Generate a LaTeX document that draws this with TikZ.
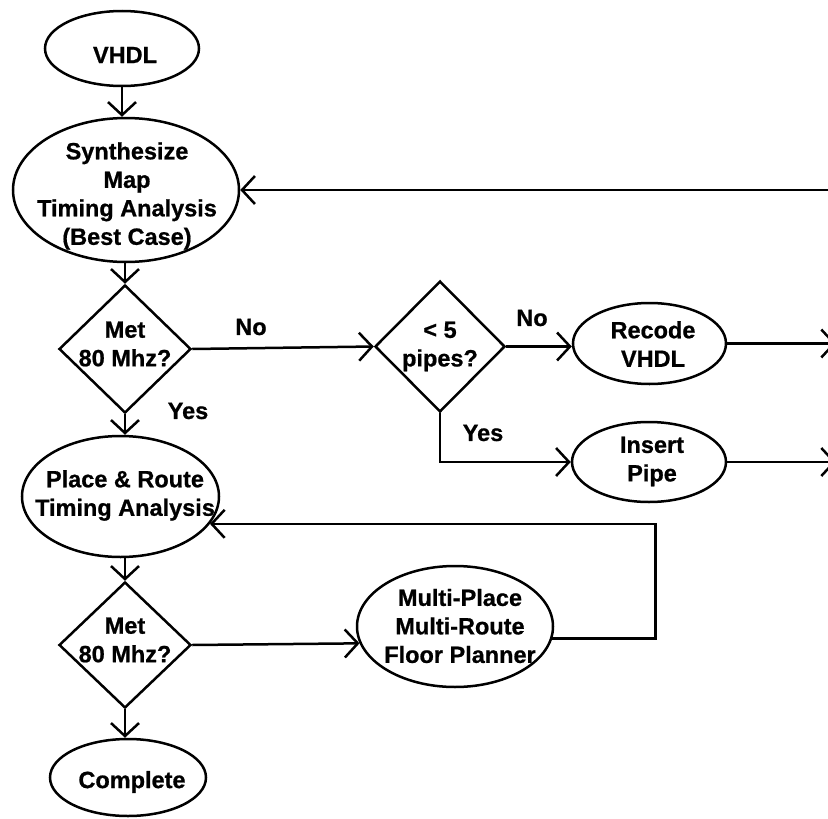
\documentclass[tikz,border=0pt]{standalone}
\usepackage{fontspec}
\setmainfont{Liberation Sans}[BoldFeatures={FakeBold=0.8}]
\usetikzlibrary{shapes.geometric,arrows.meta}
\begin{document}
\begin{tikzpicture}[x=1pt,y=-1pt,
  shp/.style={draw, line width=2.5pt, inner sep=0pt},
  oval/.style={shp, ellipse},
  dia/.style={shp, diamond},
  txt/.style={font=\fontsize{23.5}{28.5}\selectfont\bfseries, align=center, inner sep=0pt},
  flow/.style={line width=2.5pt, -{Straight Barb[length=13pt,width=28pt]}},
]
\useasboundingbox (0,0) rectangle (828,819);
% shapes
\node[oval, minimum width=154pt, minimum height=75pt] (vhdl) at (122,48.5) {};
\node[oval, minimum width=226pt, minimum height=144pt] (synth) at (126,190) {};
\node[dia, minimum width=132pt, minimum height=128pt] (d1) at (125,349) {};
\node[dia, minimum width=130pt, minimum height=131pt] (d2) at (440,346.5) {};
\node[oval, minimum width=153pt, minimum height=81pt] (recode) at (649.5,343.5) {};
\node[oval, minimum width=154pt, minimum height=80pt] (insert) at (649,462) {};
\node[oval, minimum width=197pt, minimum height=121pt] (pr) at (120.5,496.5) {};
\node[dia, minimum width=132pt, minimum height=126pt] (d3) at (125,645) {};
\node[oval, minimum width=196pt, minimum height=121pt] (multi) at (455,626.5) {};
\node[oval, minimum width=156pt, minimum height=77pt] (complete) at (128,777.5) {};
% texts
\node[txt] (vhdlT) at (125,55) {VHDL};
\node[txt] (synthT) at (127,196) {Synthesize\\Map\\Timing Analysis\\(Best Case)};
\node[txt] (d1T) at (125,344) {Met\\80 Mhz?};
\node[txt] (d2T) at (440,346.5) {< 5\\pipes?};
\node[txt] (recodeT) at (653,344) {Recode\\VHDL};
\node[txt] (insertT) at (652,461.5) {Insert\\Pipe};
\node[txt] (prT) at (125,495.5) {Place \& Route\\Timing Analysis};
\node[txt] (d3T) at (125,640) {Met\\80 Mhz?};
\node[txt] (multiT) at (460,626) {Multi-Place\\Multi-Route\\Floor Planner};
\node[txt] (completeT) at (132,782) {Complete};
\node[txt] (no1) at (251,327) {No};
\node[txt] (no2) at (532,318) {No};
\node[txt] (yes1) at (188,411) {Yes};
\node[txt] (yes2) at (483,433) {Yes};
% free ends
\coordinate (outR) at (836,343.5);
\coordinate (outI) at (836,462);
\coordinate (inS) at (830,190);
% connectors
\draw[flow] (vhdl.south) -- (vhdl.south |- synth.north);
\draw[flow] (synth.south -| d1.north) -- (d1.north);
\draw[flow] (d1.east) -- (d2.west);
\draw[flow] (d2.east) -- (d2.east -| recode.west);
\draw[flow] (d2.south) |- (insert.west);
\draw[flow] (recode.east) -- (outR);
\draw[flow] (insert.east) -- (outI);
\draw[flow] (inS) -- (synth.east);
\draw[flow] (d1.south) -- (d1.south |- pr.north);
\draw[flow] (pr.south -| d3.north) -- (d3.north);
\draw[flow] (d3.east) -- (multi.190);
\draw[flow] (multi.-7) -- ++(103,0) |- (pr.-17);
\draw[flow] (d3.south) -- (d3.south |- complete.north);
\end{tikzpicture}
\end{document}
